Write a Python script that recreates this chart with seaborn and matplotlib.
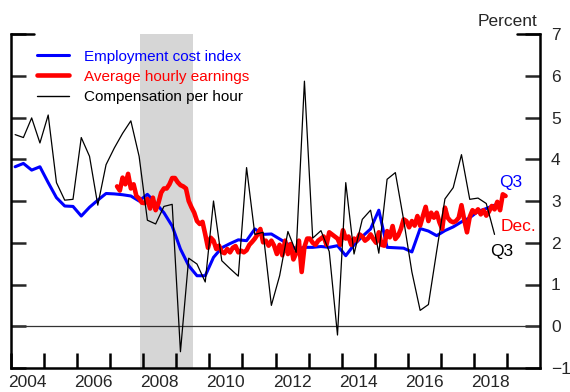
import numpy as np
import pandas as pd
import matplotlib
matplotlib.use("Agg")
import matplotlib.pyplot as plt
import seaborn as sns

# Employment cost index, 12-month change, quarterly from 2004Q1
eci_start = "2004Q1"
eci_values = [
    3.82, 3.90, 3.74, 3.82,
    3.44, 3.08, 2.88, 2.87,
    2.64, 2.85, 3.02, 3.18,
    3.17, 3.15, 3.12, 3.00,
    3.16, 2.95, 2.72, 2.40,
    1.85, 1.45, 1.21, 1.21,
    1.65, 1.88, 1.98, 2.07,
    2.05, 2.33, 2.20, 2.21,
    2.09, 1.97, 1.85, 1.89,
    1.89, 1.91, 1.89, 1.93,
    1.69, 1.95, 2.15, 2.33,
    2.78, 1.89, 1.88, 1.87,
    1.78, 2.34, 2.28, 2.17,
    2.29, 2.38, 2.50, 2.60,
    2.75, 2.82, 2.90,
]

# Compensation per hour, quarterly from 2004Q1
comp_start = "2004Q1"
comp_values = [
    4.59, 4.52, 4.99, 4.39,
    5.06, 3.44, 3.02, 3.04,
    4.52, 4.07, 2.90, 3.87,
    4.27, 4.62, 4.92, 4.07,
    2.54, 2.45, 2.87, 2.92,
    -0.61, 1.63, 1.49, 1.06,
    3.00, 1.57, 1.38, 1.20,
    3.80, 2.20, 2.25, 0.50,
    1.21, 2.27, 1.77, 5.87,
    2.11, 2.29, 1.79, -0.21,
    3.44, 1.73, 2.56, 2.78,
    1.75, 3.52, 3.68, 2.55,
    1.30, 0.38, 0.52, 1.80,
    3.05, 3.32, 4.11, 3.04,
    3.07, 2.94, 2.20,
]

# Average hourly earnings, 12-month change, monthly from March 2007
ahe_start = "2007-03"
ahe_values = [
    3.35, 3.25, 3.56, 3.40, 3.65, 3.30, 3.40, 3.12, 3.06, 2.96,
    2.95, 3.05, 2.82, 3.08, 2.78, 2.95, 3.20, 3.30, 3.30, 3.40, 3.55, 3.55,
    3.45, 3.38, 3.35, 3.30, 3.00, 2.85, 2.72, 2.52, 2.45, 2.50, 2.20, 1.88,
    2.12, 2.05, 1.85, 1.93, 1.78, 1.75, 1.85, 1.77, 1.88, 1.92, 1.77, 1.81,
    1.77, 1.82, 1.95, 2.02, 2.10, 2.20, 2.33, 2.01, 2.05, 1.93, 2.05, 1.93,
    1.73, 1.95, 1.70, 2.05, 1.73, 1.97, 1.60, 1.75, 2.05, 1.30, 1.90, 2.10,
    2.10, 2.00, 1.95, 2.05, 2.10, 2.15, 1.95, 2.25, 2.20, 2.15, 2.10, 1.95,
    2.30, 2.10, 2.15, 1.95, 2.10, 2.05, 2.20, 2.15, 2.05, 2.10, 2.20, 2.09,
    2.00, 2.25, 1.95, 1.93, 2.28, 2.13, 2.40, 2.09, 2.17, 2.33, 2.56, 2.52,
    2.37, 2.52, 2.41, 2.64, 2.41, 2.64, 2.86, 2.52, 2.72, 2.60, 2.72, 2.49,
    2.33, 2.84, 2.60, 2.52, 2.49, 2.52, 2.60, 2.90, 2.55, 2.25, 2.62, 2.78,
    2.72, 2.80, 2.68, 2.78, 2.65, 2.75, 2.88, 2.80, 2.98, 2.78, 3.16, 3.12,
]

# NBER recession, Dec 2007 to Jun 2009
recession_start = "2007-12"
recession_end = "2009-06"

year_labels = list(range(2004, 2019, 2))
series_names = ["Employment cost index", "Average hourly earnings",
                "Compensation per hour"]


def quarter_positions(start, n):
    p = pd.period_range(start, periods=n, freq="Q")
    return np.asarray(p.year + (p.quarter - 0.5) / 4, dtype=float)


def month_positions(start, n):
    p = pd.period_range(start, periods=n, freq="M")
    return np.asarray(p.year + (p.month - 0.5) / 12, dtype=float)


eci = pd.DataFrame({"date": quarter_positions(eci_start, len(eci_values)),
                    "value": eci_values})
comp = pd.DataFrame({"date": quarter_positions(comp_start, len(comp_values)),
                     "value": comp_values})
ahe = pd.DataFrame({"date": month_positions(ahe_start, len(ahe_values)),
                    "value": ahe_values})

sns.set_style("ticks")
plt.rcParams["font.family"] = ["Liberation Sans", "DejaVu Sans"]

fig = plt.figure(figsize=(5.7, 3.92), dpi=100)
ax = fig.add_axes([11 / 570, 24 / 392, 529 / 570, 334 / 392])

rs = pd.Period(recession_start, freq="M")
re_ = pd.Period(recession_end, freq="M")
ax.axvspan(rs.year + (rs.month - 1) / 12, re_.year + re_.month / 12,
           color="#d6d6d6", lw=0, zorder=0)
ax.axhline(0, color="#333333", lw=0.9, zorder=1)

sns.lineplot(data=eci, x="date", y="value", ax=ax, color="#0000ff",
             lw=2.2, label=series_names[0], zorder=3)
sns.lineplot(data=ahe, x="date", y="value", ax=ax, color="#ff0000",
             lw=3.3, label=series_names[1], zorder=4)
sns.lineplot(data=comp, x="date", y="value", ax=ax, color="black",
             lw=0.9, label=series_names[2], zorder=5)

ax.set_xlim(2004, 2020)
ax.set_ylim(-1, 7)
ax.set_xlabel("")
ax.set_ylabel("")

# Spines: left, right and bottom only
for side in ["left", "right", "bottom"]:
    ax.spines[side].set_linewidth(1.8)
    ax.spines[side].set_color("black")
ax.spines["top"].set_visible(False)

# x axis: a tick each year, labels centred in the year
ax.set_xticks(np.arange(2004, 2020))
ax.set_xticklabels([])
ax.set_xticks([y + 0.5 for y in year_labels], minor=True)
ax.set_xticklabels([str(y) for y in year_labels], minor=True)
ax.tick_params(axis="x", which="major", direction="in", length=11,
               width=1.8, color="black")
ax.tick_params(axis="x", which="minor", length=0, pad=5, labelsize=12.5)

# y axis: ticks on both sides, labels on the right
ax.set_yticks(np.arange(-1, 8))
ax.tick_params(axis="y", which="major", direction="in", length=10.5,
               width=1.8, left=True, right=True, labelleft=False,
               labelright=True, pad=8, labelsize=12.5)
for y_lbl in ax.get_yticklabels():
    y_lbl.set_horizontalalignment("left")
ax.axhline(7, xmin=0, xmax=0.044, color="black", lw=1.8, clip_on=False)
ax.axhline(7, xmin=0.956, xmax=1, color="black", lw=1.8, clip_on=False)

fig.text(537 / 570, 1 - 21 / 392, "Percent", ha="right", va="center",
         fontsize=12.5)

leg = ax.legend(loc="upper left", bbox_to_anchor=(0.049, 0.953),
                frameon=False, fontsize=11, handlelength=2.1,
                handletextpad=1.0, labelspacing=0.4, borderpad=0,
                borderaxespad=0, labelcolor="linecolor")
for h in leg.get_lines():
    h.set_linewidth({"#0000ff": 2.2, "#ff0000": 3.3}.get(h.get_color(), 1.0))

ax.text(2018.77, 3.45, "Q3", color="#0000ff", ha="left", va="center",
        fontsize=12.5)
ax.text(2018.80, 2.40, "Dec.", color="#ff0000", ha="left", va="center",
        fontsize=12.5)
ax.text(2018.50, 1.80, "Q3", color="black", ha="left", va="center",
        fontsize=12.5)

fig.savefig("out.png", dpi=100)
